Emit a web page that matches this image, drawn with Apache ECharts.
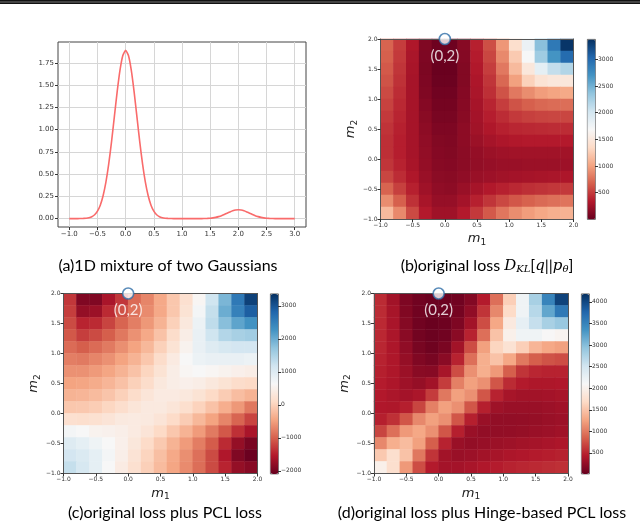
<!DOCTYPE html>
<html>
<head>
<meta charset="utf-8">
<script src="https://cdn.jsdelivr.net/npm/echarts@6/dist/echarts.min.js"></script>
<style>
  html, body { margin: 0; padding: 0; background: #fff; }
  #chart { width: 640px; height: 525px; }
</style>
</head>
<body>
<div id="chart"></div>
<script>
// (a) mixture density
const curveX = [-1.00, -0.95, -0.90, -0.85, -0.80, -0.75, -0.70, -0.65, -0.60, -0.55, -0.50, -0.45, -0.40, -0.35, -0.30, -0.25, -0.20, -0.15, -0.10, -0.05,
  0.00, 0.05, 0.10, 0.15, 0.20, 0.25, 0.30, 0.35, 0.40, 0.45, 0.50, 0.55, 0.60, 0.65, 0.70, 0.75, 0.80, 0.85, 0.90, 0.95,
  1.00, 1.05, 1.10, 1.15, 1.20, 1.25, 1.30, 1.35, 1.40, 1.45, 1.50, 1.55, 1.60, 1.65, 1.70, 1.75, 1.80, 1.85, 1.90, 1.95,
  2.00, 2.05, 2.10, 2.15, 2.20, 2.25, 2.30, 2.35, 2.40, 2.45, 2.50, 2.55, 2.60, 2.65, 2.70, 2.75, 2.80, 2.85, 2.90, 2.95, 3.00];
const curveY = [0, 0, 0, 0, 0.001, 0.002, 0.004, 0.010, 0.021, 0.043, 0.083, 0.150, 0.256, 0.409, 0.614, 0.865, 1.146, 1.427, 1.668, 1.832,
  1.890, 1.832, 1.668, 1.427, 1.146, 0.865, 0.614, 0.409, 0.256, 0.150, 0.083, 0.043, 0.021, 0.010, 0.004, 0.002, 0.001, 0, 0, 0,
  0, 0, 0, 0, 0, 0, 0, 0, 0.001, 0.002, 0.004, 0.008, 0.014, 0.022, 0.032, 0.046, 0.061, 0.075, 0.088, 0.097,
  0.100, 0.097, 0.088, 0.075, 0.061, 0.046, 0.032, 0.022, 0.014, 0.008, 0.004, 0.002, 0.001, 0, 0, 0, 0, 0, 0, 0, 0];
const curveXTicks = [-1.0, -0.5, 0.0, 0.5, 1.0, 1.5, 2.0, 2.5, 3.0];
const curveYTicks = [0, 0.25, 0.5, 0.75, 1.0, 1.25, 1.5, 1.75];

// loss surfaces: cell centres along m1 / m2, rows listed from m2 = 1.9 (top) down to m2 = -0.9
const cellCenters = ['-0.9', '-0.7', '-0.5', '-0.3', '-0.1', '0.1', '0.3', '0.5', '0.7', '0.9', '1.1', '1.3', '1.5', '1.7', '1.9'];

const lossB = [
  [700, 520, 330, 120, 40, 40, 150, 380, 600, 950, 1400, 1800, 2400, 2900, 3350],
  [680, 500, 310, 110, 30, 30, 140, 360, 560, 880, 1250, 1700, 2300, 2700, 3000],
  [650, 480, 300, 100, 20, 20, 130, 340, 520, 800, 1150, 1500, 1850, 2100, 2200],
  [620, 460, 290, 110, 30, 30, 130, 320, 480, 720, 1000, 1300, 1450, 1500, 1500],
  [580, 440, 290, 120, 50, 50, 140, 310, 450, 620, 800, 900, 980, 1020, 1050],
  [540, 420, 290, 140, 70, 70, 150, 290, 400, 520, 620, 680, 720, 740, 750],
  [500, 400, 290, 160, 90, 90, 160, 280, 370, 440, 500, 530, 550, 560, 560],
  [470, 380, 290, 180, 110, 110, 180, 270, 330, 380, 410, 420, 430, 440, 440],
  [450, 370, 290, 190, 130, 120, 180, 240, 290, 320, 340, 350, 350, 350, 350],
  [450, 370, 290, 200, 140, 130, 170, 210, 240, 260, 270, 270, 270, 270, 270],
  [480, 390, 300, 210, 150, 140, 170, 200, 220, 230, 230, 240, 240, 240, 250],
  [560, 440, 330, 230, 170, 160, 190, 230, 250, 270, 280, 290, 300, 310, 320],
  [700, 530, 380, 260, 190, 180, 230, 290, 340, 380, 420, 450, 470, 490, 500],
  [900, 680, 460, 300, 220, 220, 280, 380, 480, 570, 640, 690, 730, 760, 780],
  [1150, 880, 580, 350, 260, 260, 350, 500, 650, 790, 900, 980, 1040, 1080, 1100]
];

const lossC = [
  [-1300, -1900, -1900, -1600, -1300, -900, -700, -400, -100, 200, 600, 1200, 1900, 2600, 3200],
  [-1250, -1750, -1700, -1400, -1100, -850, -650, -400, -100, 250, 700, 1300, 2000, 2500, 2900],
  [-1150, -1450, -1400, -1200, -950, -750, -550, -300, 0, 350, 800, 1350, 1800, 2100, 2300],
  [-1050, -1250, -1150, -1000, -800, -600, -400, -150, 150, 450, 850, 1200, 1450, 1550, 1600],
  [-900, -1000, -900, -780, -620, -450, -250, 0, 250, 550, 850, 1000, 1100, 1150, 1150],
  [-750, -780, -700, -600, -450, -300, -100, 150, 400, 650, 800, 850, 850, 850, 800],
  [-600, -600, -530, -430, -300, -150, 50, 250, 450, 600, 650, 600, 550, 500, 450],
  [-450, -430, -370, -280, -160, 0, 150, 350, 450, 500, 450, 350, 250, 150, 100],
  [-300, -280, -220, -130, 0, 150, 300, 400, 400, 350, 250, 100, -50, -200, -300],
  [-100, -90, -40, 60, 170, 300, 380, 380, 300, 180, 20, -150, -350, -550, -800],
  [200, 180, 220, 280, 380, 400, 380, 280, 120, -50, -250, -450, -700, -950, -1200],
  [700, 650, 550, 520, 480, 400, 280, 100, -100, -300, -520, -780, -1050, -1350, -1600],
  [1000, 900, 780, 650, 500, 330, 130, -80, -300, -520, -760, -1020, -1400, -1750, -1950],
  [1150, 1050, 900, 700, 480, 260, 40, -180, -400, -620, -860, -1150, -1550, -1900, -2050],
  [1300, 1100, 900, 650, 420, 200, -10, -220, -430, -650, -880, -1150, -1450, -1750, -1850]
];

const lossD = [
  [550, 350, 150, 80, 50, 50, 80, 180, 450, 950, 1600, 2200, 2800, 3500, 4050],
  [550, 380, 170, 80, 40, 50, 100, 250, 600, 1100, 1700, 2200, 2700, 3200, 3600],
  [540, 390, 190, 80, 40, 60, 150, 350, 750, 1300, 1900, 2300, 2600, 2800, 2900],
  [530, 400, 220, 90, 50, 80, 220, 500, 950, 1500, 2000, 2200, 2200, 2100, 2050],
  [520, 410, 250, 120, 70, 130, 350, 750, 1250, 1650, 1800, 1600, 1400, 1300, 1250],
  [500, 420, 280, 160, 120, 220, 500, 950, 1350, 1500, 1300, 1000, 850, 780, 750],
  [480, 420, 310, 210, 200, 380, 750, 1150, 1350, 1200, 850, 600, 520, 500, 500],
  [460, 410, 330, 280, 350, 650, 1050, 1250, 1150, 800, 550, 450, 420, 420, 430],
  [440, 400, 360, 400, 650, 1000, 1250, 1150, 800, 500, 380, 350, 350, 360, 380],
  [430, 420, 480, 700, 1050, 1250, 1150, 800, 480, 330, 300, 300, 300, 320, 340],
  [480, 580, 800, 1100, 1250, 1150, 800, 480, 300, 260, 260, 270, 280, 300, 320],
  [700, 950, 1200, 1300, 1150, 800, 480, 300, 260, 260, 270, 280, 300, 320, 340],
  [1100, 1350, 1450, 1250, 850, 500, 300, 270, 290, 310, 330, 350, 370, 390, 410],
  [1550, 1750, 1500, 1000, 600, 350, 300, 320, 350, 380, 410, 430, 450, 470, 490],
  [2000, 1750, 1200, 750, 450, 360, 360, 390, 430, 460, 500, 520, 540, 560, 580]
];

const heatTicks = [-1.0, -0.5, 0.0, 0.5, 1.0, 1.5, 2.0];
const barTicksB = [500, 1000, 1500, 2000, 2500, 3000];
const barTicksC = [-2000, -1000, 0, 1000, 2000, 3000];
const barTicksD = [500, 1000, 1500, 2000, 2500, 3000, 3500, 4000];
const barRangeB = [7, 3381];
const barRangeC = [-2080, 3375];
const barRangeD = [23, 4195];
const optimum = [[0, 2]];

const rdbu = ['#67001f', '#b2182b', '#d6604d', '#f4a582', '#fddbc7', '#f7f7f7',
  '#d1e5f0', '#92c5de', '#4393c3', '#2166ac', '#053061'];

const chart = echarts.init(document.getElementById('chart'));

const minus = s => String(s).replace('-', '\u2212');
const tickFont = { fontFamily: 'DejaVu Sans', color: '#333' };
const toCells = rows => rows.flatMap((row, r) => row.map((v, c) => [c, rows.length - 1 - r, v]));

const heatGrids = [
  { left: 380.5, top: 39, width: 193, height: 180 },
  { left: 63.5, top: 293.5, width: 194, height: 180 },
  { left: 374, top: 293.5, width: 194, height: 180 }
];
const barGrids = [
  { left: 587, top: 39, width: 8, height: 180 },
  { left: 270, top: 293.5, width: 8, height: 180 },
  { left: 581, top: 293.5, width: 8, height: 180 }
];
const losses = [lossB, lossC, lossD];
const barTicks = [barTicksB, barTicksC, barTicksD];
const barRanges = [barRangeB, barRangeC, barRangeD];

const mRich = {
  m: { fontFamily: 'DejaVu Sans', fontStyle: 'italic', fontSize: 13, color: '#222', lineHeight: 16 },
  s: { fontFamily: 'DejaVu Sans', fontSize: 9, color: '#222', lineHeight: 9, verticalAlign: 'bottom' }
};
const frameLine = { show: true, onZero: false, lineStyle: { color: '#555', width: 1 } };

const grids = [{ left: 58, top: 42, width: 248, height: 185, show: true, borderColor: '#444', borderWidth: 1 }]
  .concat(heatGrids, barGrids);

const xAxes = [{
  type: 'value', gridIndex: 0, min: -1.2, max: 3.2,
  axisLine: { show: false, onZero: false },
  axisTick: { customValues: curveXTicks, length: 3, lineStyle: { color: '#333' } },
  axisLabel: Object.assign({ customValues: curveXTicks, fontSize: 7, margin: 4, formatter: v => minus(v.toFixed(1)) }, tickFont),
  splitLine: { show: true, lineStyle: { color: '#d6d6d6', width: 1 } }
}];
const yAxes = [{
  type: 'value', gridIndex: 0, min: -0.0945, max: 1.9845,
  axisLine: { show: false, onZero: false },
  axisTick: { customValues: curveYTicks, length: 3, lineStyle: { color: '#333' } },
  axisLabel: Object.assign({ customValues: curveYTicks, fontSize: 7, margin: 4, formatter: v => v.toFixed(2) }, tickFont),
  splitLine: { show: true, lineStyle: { color: '#d6d6d6', width: 1 } }
}];

// hidden category axes carry the cells; they also draw the top and right frame lines
heatGrids.forEach((g, i) => {
  xAxes.push({
    type: 'category', gridIndex: i + 1, data: cellCenters, position: 'top', z: 5,
    axisLine: frameLine, axisTick: { show: false }, axisLabel: { show: false }, splitLine: { show: false }
  });
  yAxes.push({
    type: 'category', gridIndex: i + 1, data: cellCenters, position: 'right', z: 5,
    axisLine: frameLine, axisTick: { show: false }, axisLabel: { show: false }, splitLine: { show: false }
  });
});
// visible m1 / m2 value axes
heatGrids.forEach((g, i) => {
  xAxes.push({
    type: 'value', gridIndex: i + 1, min: -1, max: 2, position: 'bottom', z: 5,
    name: '{m|m}{s|1}', nameLocation: 'middle', nameGap: 12, nameTextStyle: { rich: mRich },
    axisLine: frameLine,
    axisTick: { customValues: heatTicks, length: 3, lineStyle: { color: '#333' } },
    axisLabel: Object.assign({ customValues: heatTicks, fontSize: 6, margin: 3, formatter: v => minus(v.toFixed(1)) }, tickFont),
    splitLine: { show: false }
  });
  yAxes.push({
    type: 'value', gridIndex: i + 1, min: -1, max: 2, position: 'left', z: 5,
    name: '{m|m}{s|2}', nameLocation: 'middle', nameGap: 21, nameRotate: 90, nameTextStyle: { rich: mRich },
    axisLine: frameLine,
    axisTick: { customValues: heatTicks, length: 3, lineStyle: { color: '#333' } },
    axisLabel: Object.assign({ customValues: heatTicks, fontSize: 6, margin: 3, formatter: v => minus(v.toFixed(1)) }, tickFont),
    splitLine: { show: false }
  });
});
// colour bar tick axes
barGrids.forEach((g, i) => {
  xAxes.push({ type: 'value', gridIndex: 4 + i, show: false, min: 0, max: 1 });
  yAxes.push({
    type: 'value', gridIndex: 4 + i, position: 'right', min: barRanges[i][0], max: barRanges[i][1], z: 5,
    axisLine: { show: false, onZero: false },
    axisTick: { customValues: barTicks[i], length: 3, lineStyle: { color: '#333' } },
    axisLabel: Object.assign({ customValues: barTicks[i], fontSize: 6, margin: 3, formatter: v => minus(v) }, tickFont),
    splitLine: { show: false }
  });
});

const series = [{
  type: 'line', xAxisIndex: 0, yAxisIndex: 0,
  data: curveX.map((x, k) => [x, curveY[k]]),
  showSymbol: false, smooth: 0.2, silent: true,
  lineStyle: { color: '#f96b6b', width: 1.6 }
}];
losses.forEach((rows, i) => {
  series.push({
    type: 'heatmap', xAxisIndex: 1 + i, yAxisIndex: 1 + i,
    data: toCells(rows), silent: true, progressive: 0,
    emphasis: { disabled: true }
  });
});
losses.forEach((rows, i) => {
  series.push({
    type: 'scatter', xAxisIndex: 4 + i, yAxisIndex: 4 + i,
    data: optimum, clip: false, silent: true, z: 10,
    symbol: 'circle', symbolSize: 11,
    itemStyle: { color: '#fff', borderColor: '#2f6ea8', borderWidth: 1.6 },
    label: {
      show: true, position: 'bottom', distance: 3,
      formatter: p => '(' + p.value[0] + ',' + p.value[1] + ')',
      color: '#fff', fontSize: 15, fontFamily: 'Lato'
    }
  });
});

const visualMaps = barGrids.map((g, i) => ({
  type: 'continuous', seriesIndex: 1 + i,
  min: barRanges[i][0], max: barRanges[i][1],
  calculable: false, hoverLink: false,
  left: g.left, top: g.top, itemWidth: g.width, itemHeight: g.height,
  padding: 0, borderColor: '#444', borderWidth: 0.8,
  inRange: { color: rdbu }
}));

const capFont = { fontFamily: 'Lato', fontSize: 16, fill: '#000', align: 'center', verticalAlign: 'middle' };
const capRich = {
  i: { fontFamily: 'DejaVu Serif', fontStyle: 'italic', fontSize: 15, fill: '#000' },
  s: { fontFamily: 'DejaVu Serif', fontStyle: 'italic', fontSize: 10, fill: '#000', verticalAlign: 'bottom', lineHeight: 10 }
};

chart.setOption({
  animation: false,
  grid: grids,
  xAxis: xAxes,
  yAxis: yAxes,
  visualMap: visualMaps,
  series: series,
  graphic: [
    { type: 'rect', shape: { x: 0, y: 0, width: 640, height: 4 }, style: { fill: '#111' } },
    { type: 'rect', shape: { x: 0, y: 1.5, width: 640, height: 1 }, style: { fill: '#777' } },
    { type: 'text', x: 168, y: 266, style: Object.assign({ text: '(a)1D mixture of two Gaussians' }, capFont) },
    { type: 'text', x: 487, y: 266, style: Object.assign({ text: '(b)original loss {i|D}{s|KL}[{i|q}||{i|p}{s|\u03b8}]', rich: capRich }, capFont) },
    { type: 'text', x: 165, y: 513, style: Object.assign({ text: '(c)original loss plus PCL loss' }, capFont) },
    { type: 'text', x: 482, y: 513, style: Object.assign({ text: '(d)original loss plus Hinge-based PCL loss' }, capFont) }
  ]
});
</script>
</body>
</html>
